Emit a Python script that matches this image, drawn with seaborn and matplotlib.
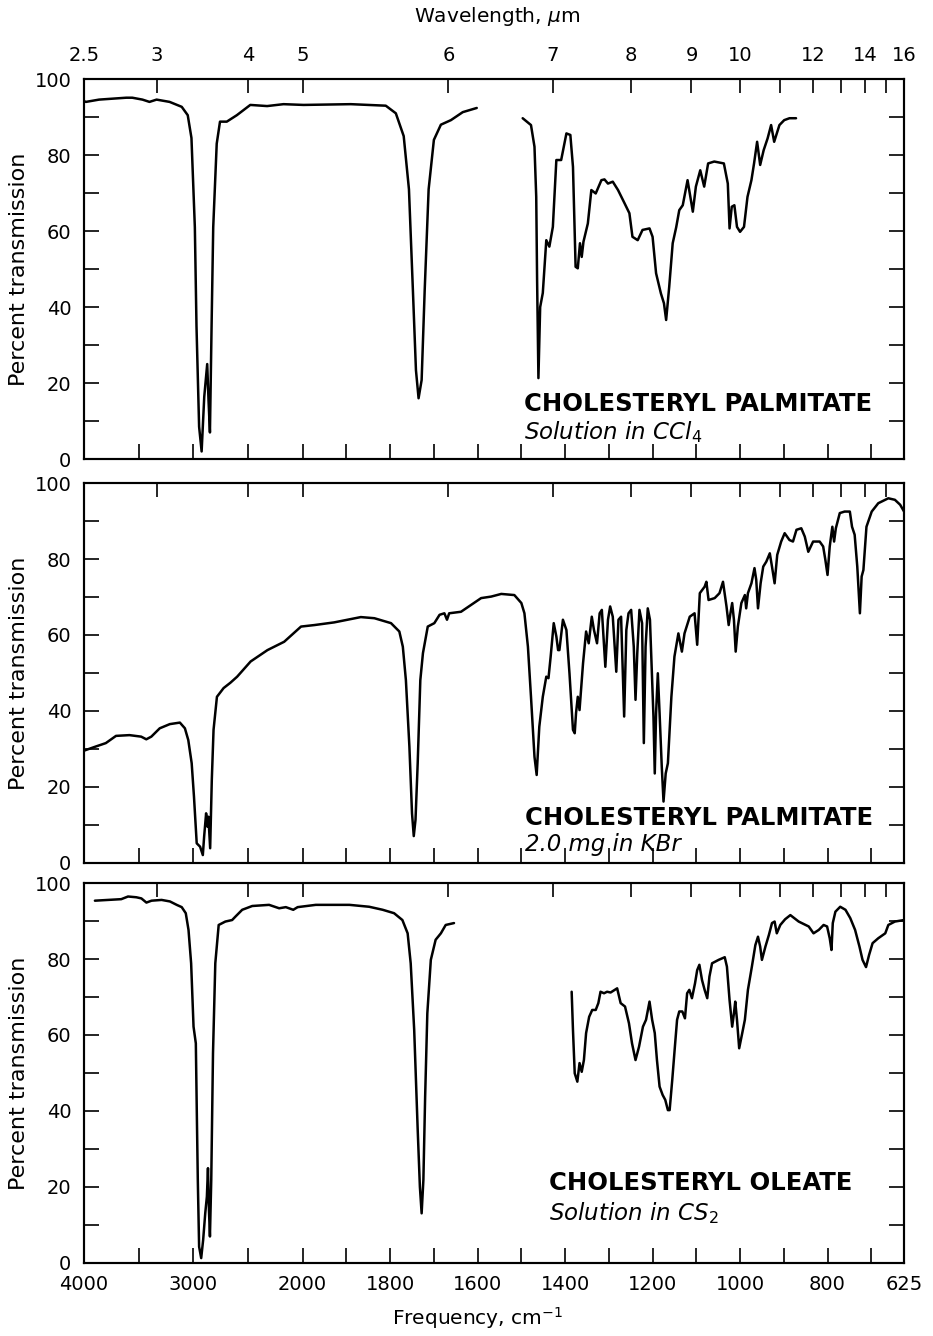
import numpy as np
import pandas as pd
import matplotlib
matplotlib.use("Agg")
import matplotlib.pyplot as plt
import seaborn as sns

# ---------------------------------------------------------------
# Infrared spectra: wavenumber (cm^-1) and percent transmission
# ---------------------------------------------------------------

# Cholesteryl palmitate, solution in CCl4 (two recorded ranges)
palm_ccl4_a_wn = [4000, 3982, 3862, 3613, 3558, 3465, 3401, 3336, 3217, 3106, 3051,
                  3017, 2986, 2971, 2947, 2924, 2900, 2873, 2861, 2848, 2833, 2818,
                  2786, 2756, 2694, 2602, 2479, 2325, 2175, 1998, 1890, 1810, 1787,
                  1769, 1757, 1748, 1741, 1735, 1728, 1721, 1712, 1700, 1684, 1661,
                  1634, 1602]
palm_ccl4_a_t = [94.2, 94.0, 94.6, 95.1, 95.1, 94.6, 94.0, 94.6, 94.0, 92.7, 90.5,
                 84.5, 61.0, 35.0, 8.5, 2.0, 16.4, 25.0, 15.5, 7.0, 35.0, 61.0,
                 83.0, 88.8, 88.8, 90.5, 93.2, 92.9, 93.4, 93.2, 93.4, 93.0, 91.0,
                 85.0, 71.0, 44.5, 23.4, 16.0, 20.8, 44.5, 71.0, 84.0, 88.0, 89.2,
                 91.3, 92.4]
palm_ccl4_b_wn = [1497, 1478, 1470, 1466, 1464, 1461, 1457, 1451, 1443, 1436, 1428,
                  1420, 1409, 1397, 1388, 1382, 1376, 1371, 1366, 1362, 1358, 1348,
                  1340, 1330, 1317, 1310, 1302, 1291, 1279, 1264, 1253, 1246, 1234,
                  1223, 1207, 1200, 1192, 1181, 1174, 1169, 1162, 1154, 1146, 1139,
                  1131, 1120, 1108, 1101, 1091, 1082, 1073, 1059, 1037, 1028, 1024,
                  1019, 1013, 1007, 1000, 991, 983, 974, 968, 961, 954, 946, 937,
                  929, 922, 910, 899, 887, 872]
palm_ccl4_b_t = [89.7, 87.9, 82.2, 69.0, 47.0, 21.3, 40.0, 43.7, 57.6, 55.9, 61.1,
                 78.7, 78.7, 85.7, 85.3, 76.9, 50.6, 50.2, 56.8, 53.2, 57.2, 62.0,
                 70.8, 69.9, 73.4, 73.6, 72.5, 73.0, 70.8, 67.3, 64.7, 58.5, 57.6,
                 60.3, 60.7, 58.5, 48.9, 43.6, 41.0, 36.6, 45.3, 56.8, 61.0, 65.5,
                 66.8, 73.4, 65.1, 71.7, 76.0, 71.7, 77.8, 78.3, 77.8, 72.5, 60.7,
                 66.4, 66.8, 61.1, 59.8, 61.1, 69.0, 73.4, 77.8, 83.5, 77.4, 81.3, 84.4,
                 87.9, 83.5, 87.9, 89.2, 89.7, 89.7]

# Cholesteryl palmitate, 2.0 mg in KBr
palm_kbr_wn = [4000, 3892, 3800, 3707, 3584, 3477, 3430, 3384, 3307, 3215, 3123,
               3077, 3046, 3015, 2994, 2969, 2938, 2913, 2901, 2883, 2871, 2862,
               2846, 2831, 2815, 2784, 2723, 2661, 2599, 2476, 2322, 2169, 2015,
               1973, 1928, 1867, 1836, 1798, 1779, 1771, 1764, 1756, 1750, 1746,
               1742, 1737, 1731, 1725, 1714, 1699, 1687, 1676, 1670, 1665, 1638,
               1615, 1592, 1569, 1546, 1516, 1500, 1493, 1485, 1478, 1470, 1465,
               1459, 1451, 1443, 1438, 1433, 1426, 1420, 1416, 1413, 1405, 1397,
               1390, 1382, 1378, 1375, 1371, 1367, 1359, 1352, 1346, 1339, 1334,
               1327, 1321, 1316, 1308, 1302, 1297, 1291, 1283, 1278, 1272, 1265,
               1260, 1255, 1249, 1243, 1239, 1235, 1230, 1224, 1220, 1216, 1211,
               1206, 1201, 1198, 1195, 1192, 1188, 1184, 1179, 1175, 1170, 1165,
               1157, 1150, 1141, 1133, 1127, 1115, 1104, 1098, 1092, 1081, 1077,
               1072, 1058, 1047, 1039, 1031, 1026, 1022, 1018, 1014, 1010, 1005,
               997, 989, 986, 982, 974, 967, 963, 959, 953, 947, 940, 932, 927,
               921, 915, 906, 898, 887, 879, 871, 860, 852, 844, 833, 818, 810,
               805, 800, 795, 789, 785, 781, 772, 761, 749, 744, 738, 732, 726,
               722, 718, 711, 699, 684, 661, 646, 634, 625]
palm_kbr_t = [29.5, 30.6, 31.5, 33.4, 33.6, 33.2, 32.5, 33.2, 35.4, 36.5, 36.9,
              35.4, 32.3, 26.2, 17.4, 5.1, 4.2, 2.0, 6.9, 13.0, 9.5, 12.1,
              3.8, 21.8, 35.0, 43.7, 46.0, 47.4, 49.0, 53.0, 56.0, 58.2, 62.2,
              62.6, 63.3, 64.7, 64.4, 63.1, 60.9, 56.9, 48.1, 30.6, 13.0, 7.0,
              11.3, 26.2, 48.1, 55.2, 62.2, 63.1, 65.3, 65.7, 64.0, 65.7, 66.1,
              67.9, 69.7, 70.1, 70.8, 70.5, 68.4, 65.7, 56.9, 43.7, 27.9, 23.1,
              35.8, 43.7, 49.0, 48.6, 54.3, 63.1, 59.6, 56.0, 56.0, 64.0, 61.3,
              49.9, 35.0, 34.1, 39.4, 43.7, 40.2, 52.5, 60.9, 57.8, 64.8, 61.3,
              57.8, 65.7, 66.6, 51.6, 64.0, 67.5, 64.8, 50.3, 64.0, 64.8, 38.5,
              61.3, 65.7, 66.6, 56.9, 42.9, 55.2, 66.6, 63.1, 31.5, 56.9, 67.0,
              64.0, 48.1, 38.5, 23.5, 39.4, 49.9, 39.4, 25.3, 16.1, 23.5, 26.2,
              43.7, 54.3, 60.4, 55.6, 60.4, 64.8, 65.7, 57.4, 71.0, 72.7, 74.0,
              69.2, 69.7, 71.0, 74.0, 67.5, 62.6, 65.7, 68.4, 64.0, 55.6, 62.2,
              68.4, 70.5, 67.0, 71.0, 73.6, 77.6, 74.5, 67.0, 73.6, 78.0, 79.3, 81.5, 78.0,
              73.6, 81.1, 84.6, 86.8, 85.0, 84.6, 87.7, 88.1, 85.9, 81.9, 84.6, 84.6, 83.3,
              79.8, 75.8, 83.3, 88.5, 84.6, 88.1, 92.1, 92.5, 92.5, 88.5, 86.4, 78.0, 65.7,
              75.4, 77.1, 88.5, 92.5, 94.7, 96.0, 95.6, 94.3, 92.5]

# Cholesteryl oleate, solution in CS2 (two recorded ranges)
oleate_cs2_a_wn = [3900, 3659, 3597, 3521, 3475, 3429, 3382, 3290, 3214, 3152, 3106,
                   3069, 3044, 3020, 2998, 2977, 2968, 2959, 2947, 2928, 2910, 2891,
                   2876, 2866, 2857, 2848, 2836, 2820, 2799, 2768, 2707, 2645, 2615,
                   2553, 2461, 2307, 2215, 2154, 2086, 2046, 1970, 1893, 1848, 1817,
                   1791, 1772, 1760, 1753, 1745, 1737, 1732, 1728, 1724, 1720, 1715,
                   1707, 1696, 1684, 1673, 1654]
oleate_cs2_a_t = [95.4, 95.8, 96.5, 96.3, 96.0, 94.9, 95.4, 95.6, 95.2, 94.3, 93.7,
                  92.1, 87.7, 78.9, 62.2, 57.8, 39.4, 21.8, 4.2, 1.2, 6.0, 13.0,
                  17.4, 24.9, 13.9, 6.9, 21.8, 55.2, 78.9, 89.0, 89.9, 90.3, 91.2,
                  93.0, 94.0, 94.3, 93.4, 93.7, 93.0, 93.7, 94.3, 94.3, 93.8, 93.0,
                  92.1, 90.3, 86.8, 78.9, 61.3, 35.0, 20.0, 13.0, 21.8, 43.7, 65.7,
                  79.8, 85.1, 86.8, 89.0, 89.5]
oleate_cs2_b_wn = [1385, 1382, 1378, 1372, 1367, 1362, 1357, 1352, 1345, 1338, 1330,
                   1324, 1319, 1311, 1304, 1296, 1281, 1273, 1263, 1254, 1247, 1239,
                   1231, 1222, 1215, 1207, 1201, 1195, 1190, 1184, 1177, 1171, 1165,
                   1161, 1155, 1149, 1144, 1139, 1132, 1126, 1121, 1116, 1110, 1103,
                   1098, 1093, 1087, 1081, 1075, 1070, 1064, 1049, 1035, 1030, 1024,
                   1018, 1014, 1011, 1007, 1002, 995, 989, 982, 973, 965, 959, 954,
                   950, 942, 934, 927, 921, 916, 908, 897, 885, 866, 843, 832, 820,
                   809, 801, 795, 791, 788, 782, 771, 759, 748, 737, 727, 720, 712,
                   705, 697, 684, 668, 661, 646, 625]
oleate_cs2_b_t = [71.4, 61.3, 49.9, 47.7, 52.6, 50.3, 53.4, 60.5, 64.8, 66.6, 66.6,
                  68.4, 71.4, 71.0, 71.4, 71.2, 72.3, 68.4, 67.5, 63.1, 57.8, 53.4,
                  56.9, 62.2, 64.0, 68.8, 64.0, 60.5, 53.4, 46.4, 44.2, 42.9, 40.2,
                  40.2, 48.2, 56.9, 64.0, 66.2, 66.2, 64.4, 71.0, 71.9, 69.7, 73.6,
                  77.1, 78.5, 74.5, 71.9, 69.7, 75.4, 78.9, 79.8, 80.5, 78.0, 69.2,
                  62.2, 65.7, 68.8, 64.0, 56.5, 60.5, 64.0, 71.9, 78.0, 83.7, 85.9, 83.3,
                  79.8, 83.3, 86.4, 89.5, 89.9, 86.8, 89.0, 90.5, 91.6, 89.9, 88.6, 86.8,
                  87.7, 89.0, 88.6, 85.5, 82.4, 89.5, 92.5, 93.8, 93.0, 90.8, 87.7, 83.3,
                  79.8, 77.9, 81.1, 84.2, 85.5, 86.8, 89.0, 89.9, 90.3]

compound_names = ["CHOLESTERYL PALMITATE", "CHOLESTERYL PALMITATE", "CHOLESTERYL OLEATE"]
sample_notes = [r"Solution in CCl$_\mathit{4}$", "2.0 mg in KBr", r"Solution in CS$_\mathit{2}$"]

freq_ticks = [4000, 3500, 3000, 2500, 2000, 1900, 1800, 1700, 1600, 1500, 1400,
              1300, 1200, 1100, 1000, 900, 800, 700, 625]
freq_labels = ["4000", "", "3000", "", "2000", "", "1800", "", "1600", "", "1400",
               "", "1200", "", "1000", "", "800", "", "625"]
wave_ticks = [2.5, 3, 4, 5, 6, 7, 8, 9, 10, 11, 12, 13, 14, 15, 16]
wave_labels = ["2.5", "3", "4", "5", "6", "7", "8", "9", "10", "", "12", "", "14", "", "16"]
trans_ticks = list(range(0, 101, 10))
trans_labels = [str(v) if v % 20 == 0 else "" for v in trans_ticks]


def segments_frame(*pairs):
    frames = []
    for i, (wn, t) in enumerate(pairs):
        frames.append(pd.DataFrame({"wn": wn, "T": t, "seg": i}))
    return pd.concat(frames, ignore_index=True)


spectra = [
    segments_frame((palm_ccl4_a_wn, palm_ccl4_a_t), (palm_ccl4_b_wn, palm_ccl4_b_t)),
    segments_frame((palm_kbr_wn, palm_kbr_t)),
    segments_frame((oleate_cs2_a_wn, oleate_cs2_a_t), (oleate_cs2_b_wn, oleate_cs2_b_t)),
]


# Grating-change chart paper: 4000-2000 cm^-1 compressed 4x relative to 2000-625
def wn_forward(w):
    w = np.asarray(w, dtype=float)
    return np.where(w >= 2000, 5500.0 + (w - 2000.0), 4.0 * (w - 625.0))


def wn_inverse(p):
    p = np.asarray(p, dtype=float)
    return np.where(p >= 5500, 2000.0 + (p - 5500.0), 625.0 + p / 4.0)


sns.set_style("ticks")
plt.rcParams["font.family"] = ["DejaVu Sans"]
plt.rcParams["mathtext.fontset"] = "dejavusans"
for key in ("text.color", "axes.labelcolor", "xtick.color", "ytick.color",
            "axes.edgecolor"):
    plt.rcParams[key] = "black"

fig = plt.figure(figsize=(9.33, 13.36), dpi=100)
left, width = 0.090, 0.879
rects = [[left, 0.6564, width, 0.2844],
         [left, 0.3543, width, 0.2841],
         [left, 0.0549, width, 0.2840]]
name_pos = [(0.537, 0.145, 0.071), (0.538, 0.118, 0.047), (0.567, 0.210, 0.131)]

tick_fs = 14
for k, (rect, df) in enumerate(zip(rects, spectra)):
    ax = fig.add_axes(rect)
    sns.lineplot(data=df, x="wn", y="T", units="seg", estimator=None, sort=False,
                 color="black", linewidth=1.8, ax=ax, legend=False)
    ax.set_xscale("function", functions=(wn_forward, wn_inverse))
    ax.set_xlim(4000, 625)
    ax.set_ylim(0, 100)

    ax.set_xticks(freq_ticks)
    ax.set_xticklabels(freq_labels if k == 2 else [""] * len(freq_ticks))
    ax.xaxis.set_minor_locator(matplotlib.ticker.NullLocator())
    ax.tick_params(axis="x", which="both", direction="in", length=11, width=1.2,
                   top=False, bottom=True, labelsize=tick_fs, pad=9)

    ax.set_yticks(trans_ticks)
    ax.set_yticklabels(trans_labels)
    ax.tick_params(axis="y", direction="in", length=11, width=1.2, left=True,
                   right=True, labelsize=tick_fs, pad=9)
    ax.set_xlabel("")
    ax.set_ylabel("Percent transmission", fontsize=16)
    ax.yaxis.set_label_coords(-0.067, 0.5)
    for sp in ax.spines.values():
        sp.set_linewidth(1.5)
        sp.set_color("black")

    top = ax.twiny()
    top.set_xscale("function", functions=(wn_forward, wn_inverse))
    top.set_xlim(4000, 625)
    top.set_xticks([1e4 / w for w in wave_ticks])
    top.set_xticklabels(wave_labels if k == 0 else [""] * len(wave_ticks))
    top.xaxis.set_minor_locator(matplotlib.ticker.NullLocator())
    top.tick_params(axis="x", which="both", direction="in", length=10, width=1.2,
                    top=True, bottom=False, labelsize=tick_fs, pad=10)
    for sp in top.spines.values():
        sp.set_linewidth(1.5)
        sp.set_color("black")

    nx, ny1, ny2 = name_pos[k]
    ax.text(nx, ny1, compound_names[k], transform=ax.transAxes, fontsize=17.5,
            fontweight="bold", ha="left", va="center")
    ax.text(nx, ny2, sample_notes[k], transform=ax.transAxes, fontsize=16.5,
            style="italic", ha="left", va="center")

fig.text(497 / 933, 1 - 17 / 1336, r"Wavelength, $\mu$m", fontsize=14.5,
         ha="center", va="center")
fig.text(477 / 933, 1 - 1318 / 1336, r"Frequency, cm$^{-1}$", fontsize=14.5,
         ha="center", va="center")

fig.savefig("out.png", dpi=100)
